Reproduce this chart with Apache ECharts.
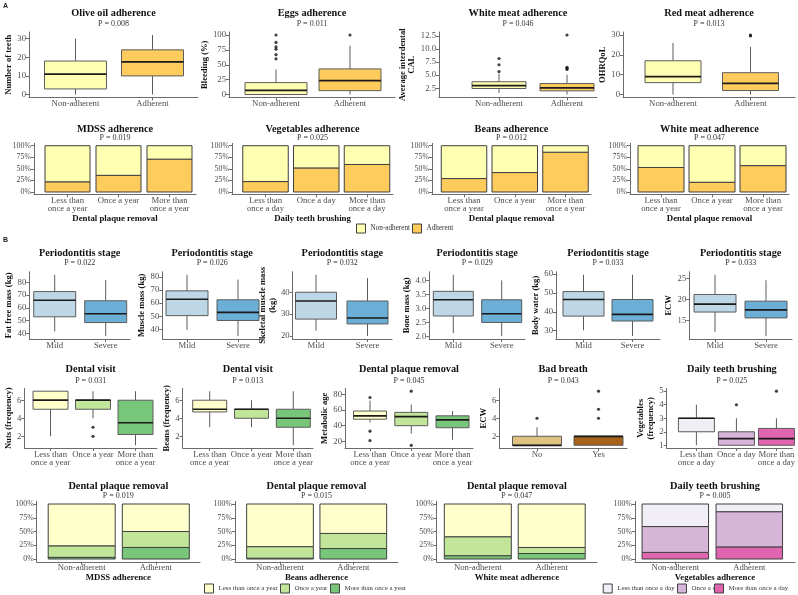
<!DOCTYPE html>
<html><head><meta charset="utf-8">
<script src="https://cdn.jsdelivr.net/npm/echarts@6/dist/echarts.min.js"></script>
<style>html,body{margin:0;padding:0;background:#fff}#c{width:798px;height:595px}</style>
</head><body><div id="c"></div>
<script>
// ======================= DATA =======================
// Boxplot values: [min whisker, Q1, median, Q3, max whisker]; outliers listed per category
const adherenceCats = ['Non-adherent', 'Adherent'];
const stageCats = ['Mild', 'Severe'];
const yearFreqCats = ['Less than\nonce a year', 'Once a year', 'More than\nonce a year'];
const dayFreqCats = ['Less than\nonce a day', 'Once a day', 'More than\nonce a day'];
const breathCats = ['No', 'Yes'];

// --- A, row 1 ---
const oliveOilTeeth = [[0, 3, 11, 18, 30], [0, 10, 17.5, 24, 32]];
const oliveOilTeethOut = [[], []];
const eggsBleeding = [[0, 0, 7, 20, 42], [0, 6.5, 23.5, 43, 82]];
const eggsBleedingOut = [[100, 87.5, 80, 76, 67, 60], [100]];
const whiteMeatCAL = [[1.6, 2.45, 3.0, 3.75, 5.3], [1.3, 2.0, 2.56, 3.4, 5.1]];
const whiteMeatCALOut = [[8.2, 7.0, 5.7], [12.7, 6.5, 6.3, 6.1]];
const redMeatOHRQoL = [[0, 6, 9, 17, 26], [0, 2, 5.6, 11, 24]];
const redMeatOHRQoLOut = [[], [29.5, 30]];

// --- A, row 2 (proportions, Adherent / Non-adherent) ---
const mdssPlaqueAdh = [0.22, 0.36, 0.71];
const mdssPlaqueNon = [0.78, 0.64, 0.29];
const vegBrushAdh = [0.225, 0.52, 0.595];
const vegBrushNon = [0.775, 0.48, 0.405];
const beansPlaqueAdh = [0.29, 0.42, 0.86];
const beansPlaqueNon = [0.71, 0.58, 0.14];
const whiteMeatPlaqueAdh = [0.53, 0.21, 0.57];
const whiteMeatPlaqueNon = [0.47, 0.79, 0.43];

// --- B, row 3 ---
const fatFreeMass = [[41.5, 53, 66, 72.8, 86], [38, 48.5, 55.4, 65.6, 81.8]];
const muscleMass = [[39.6, 50.5, 63, 69.4, 81.7], [35, 46.8, 53, 62.6, 78]];
const skeletalMass = [[22.4, 27.7, 36, 40, 48], [20, 25.5, 28.2, 36, 46.5]];
const boneMass = [[2.12, 2.73, 3.31, 3.61, 4.2], [2.02, 2.5, 2.81, 3.31, 4.0]];
const bodyWater = [[30.2, 37.7, 46.5, 50.7, 59.6], [27.2, 35.1, 38.6, 46.5, 59.6]];
const ecwStage = [[12.3, 17, 18.9, 21.2, 25.9], [11.3, 15.6, 17.5, 19.6, 24.6]];
const noOut2 = [[], []];

// --- B, row 4 ---
const nutsVisit = [[2, 5, 6, 7, 7], [4, 5, 6, 6, 7], [1, 2.2, 3.5, 6, 7]];
const nutsVisitOut = [[], [3, 2], []];
const beansVisit = [[3, 4.7, 5, 6, 7], [3, 4, 5, 5, 6], [1, 3, 4, 5, 7]];
const beansVisitOut = [[], [], []];
const metabolicPlaque = [[44, 48.3, 52.6, 58.7, 72], [30, 40, 51.7, 57, 67], [22, 37.4, 47.4, 52.6, 58.6]];
const metabolicPlaqueOut = [[76, 33, 21], [84, 15], []];
const ecwBreath = [[1, 1, 1, 2, 3], [1, 1, 2, 2, 2]];
const ecwBreathOut = [[4], [7, 5, 4]];
const vegBrushFreq = [[1, 2, 3, 3, 4], [1, 1, 1.5, 2, 3], [1, 1, 1.5, 2.25, 3]];
const vegBrushFreqOut = [[], [4], [5]];

// --- B, row 5 (proportions by adherence group: [Non-adherent, Adherent]) ---
const mdssMore = [0.03, 0.21], mdssOnce = [0.21, 0.29], mdssLess = [0.76, 0.50];
const beansMore = [0.015, 0.19], beansOnce = [0.21, 0.275], beansLess = [0.775, 0.535];
const wmMore = [0.06, 0.10], wmOnce = [0.345, 0.11], wmLess = [0.595, 0.79];
const vegMore = [0.12, 0.22], vegOnce = [0.47, 0.64], vegLess = [0.41, 0.14];

const pctTicks = [0, 0.25, 0.5, 0.75, 1];

// ======================= STYLE / LAYOUT =======================
const FONT = 'Liberation Serif';
const AXIS_COL = '#6b6b6b';
const TXT_COL = '#4d4d4d';
const BOX_BORDER = '#5c5c5c';
const BAR_BORDER = '#3f3f3f';
const adhColors = ['#FFFFB2', '#FECC5C'];
const stageColors = ['#BDD7E7', '#6BAED6'];
const yearColors = ['#FFFFCC', '#C2E699', '#78C679'];
const dayColors = ['#F1EEF6', '#D7B5D8', '#DF65B0'];
const breathColors = ['#DFC27D', '#A6611A'];
const seriesColors = {
  'Non-adherent': '#FFFFB2', 'Adherent': '#FECC5C',
  'Less than once a year': '#FFFFCC', 'Once a year': '#C2E699', 'More than once a year': '#78C679',
  'Less than once a day': '#F1EEF6', 'Once a day': '#D7B5D8', 'More than once a day': '#DF65B0'
};
const ROWS = {
  r1: {T: 32, B: 97.5, title: 13.5, p: 24.3},
  r2: {T: 143.4, B: 194.3, title: 129, p: 137.7},
  r3: {T: 271.7, B: 339, title: 253.3, p: 263.3},
  r4: {T: 388.5, B: 448, title: 369.3, p: 381},
  r5: {T: 501.25, B: 561.75, title: 486.7, p: 495.7}
};
// legend entries: [name, left, top, fontSize]
const legendPlacement = [
  ['Non-adherent', 356, 223.5, 7.2], ['Adherent', 412, 223.5, 7.2],
  ['Less than once a year', 204, 583.5, 6.9], ['Once a year', 280, 583.5, 6.9], ['More than once a year', 330, 583.5, 6.9],
  ['Less than once a day', 602.7, 583.5, 6.9], ['Once a day', 677, 583.5, 6.9], ['More than once a day', 714, 583.5, 6.9]
];

const panels = [
  // A row 1
  {kind: 'box', row: 'r1', title: 'Olive oil adherence', p: 'P = 0.008', cats: adherenceCats, box: oliveOilTeeth, out: oliveOilTeethOut, colors: adhColors, yName: 'Number of teeth', yTicks: [0, 10, 20, 30], dec: 0, geo: {L: 29, R: 198, c1: 75.5, cn: 152.5, w: 62, yGap: 12.8}},
  {kind: 'box', row: 'r1', title: 'Eggs adherence', p: 'P = 0.011', cats: adherenceCats, box: eggsBleeding, out: eggsBleedingOut, colors: adhColors, yName: 'Bleeding (%)', yTicks: [0, 25, 50, 75, 100], dec: 0, geo: {L: 229, R: 395, c1: 276, cn: 350, w: 62, yGap: 12.8}},
  {kind: 'box', row: 'r1', title: 'White meat adherence', p: 'P = 0.046', cats: adherenceCats, box: whiteMeatCAL, out: whiteMeatCALOut, colors: adhColors, yName: 'Average interdental\nCAL', yTicks: [2.5, 5, 7.5, 10, 12.5], dec: 1, geo: {L: 439, R: 597, c1: 499, cn: 567, w: 54, yGap: 17.5}},
  {kind: 'box', row: 'r1', title: 'Red meat adherence', p: 'P = 0.013', cats: adherenceCats, box: redMeatOHRQoL, out: redMeatOHRQoLOut, colors: adhColors, yName: 'OHRQoL', yTicks: [0, 10, 20, 30], dec: 0, geo: {L: 623, R: 795, c1: 673, cn: 750.5, w: 56, yGap: 8.5}},
  // A row 2
  {kind: 'bar', row: 'r2', title: 'MDSS adherence', p: 'P = 0.019', cats: yearFreqCats, stack: [['Adherent', mdssPlaqueAdh], ['Non-adherent', mdssPlaqueNon]], xName: 'Dental plaque removal', xGap: 17.2, geo: {L: 34, R: 196, c1: 67.5, cn: 169.5, w: 45}},
  {kind: 'bar', row: 'r2', title: 'Vegetables adherence', p: 'P = 0.025', cats: dayFreqCats, stack: [['Adherent', vegBrushAdh], ['Non-adherent', vegBrushNon]], xName: 'Daily teeth brushing', xGap: 17.2, geo: {L: 232, R: 393, c1: 265.5, cn: 367, w: 45.5}},
  {kind: 'bar', row: 'r2', title: 'Beans adherence', p: 'P = 0.012', cats: yearFreqCats, stack: [['Adherent', beansPlaqueAdh], ['Non-adherent', beansPlaqueNon]], xName: 'Dental plaque removal', xGap: 17.2, geo: {L: 432, R: 591, c1: 464, cn: 565.5, w: 45.5}},
  {kind: 'bar', row: 'r2', title: 'White meat adherence', p: 'P = 0.047', cats: yearFreqCats, stack: [['Adherent', whiteMeatPlaqueAdh], ['Non-adherent', whiteMeatPlaqueNon]], xName: 'Dental plaque removal', xGap: 17.2, geo: {L: 630, R: 789, c1: 661, cn: 763, w: 46}},
  // B row 3
  {kind: 'box', row: 'r3', title: 'Periodontitis stage', p: 'P = 0.022', cats: stageCats, box: fatFreeMass, out: noOut2, colors: stageColors, yName: 'Fat free mass (kg)', yTicks: [40, 50, 60, 70, 80], dec: 0, geo: {L: 29.3, R: 130, c1: 54.7, cn: 105.7, w: 42, yGap: 11.8}},
  {kind: 'box', row: 'r3', title: 'Periodontitis stage', p: 'P = 0.026', cats: stageCats, box: muscleMass, out: noOut2, colors: stageColors, yName: 'Muscle mass (kg)', yTicks: [40, 50, 60, 70, 80], dec: 0, geo: {L: 162.3, R: 262, c1: 187, cn: 238, w: 42, yGap: 12.5}},
  {kind: 'box', row: 'r3', title: 'Periodontitis stage', p: 'P = 0.032', cats: stageCats, box: skeletalMass, out: noOut2, colors: stageColors, yName: 'Skeletal muscle mass\n(kg)', yTicks: [20, 30, 40], dec: 0, geo: {L: 292.7, R: 392, c1: 316, cn: 367.5, w: 41, yGap: 8}},
  {kind: 'box', row: 'r3', title: 'Periodontitis stage', p: 'P = 0.029', cats: stageCats, box: boneMass, out: noOut2, colors: stageColors, yName: 'Bone mass (kg)', yTicks: [2, 2.5, 3, 3.5, 4], dec: 1, geo: {L: 429.3, R: 525, c1: 453.3, cn: 501.7, w: 40, yGap: 16}},
  {kind: 'box', row: 'r3', title: 'Periodontitis stage', p: 'P = 0.033', cats: stageCats, box: bodyWater, out: noOut2, colors: stageColors, yName: 'Body water (kg)', yTicks: [30, 40, 50, 60], dec: 0, geo: {L: 556, R: 660, c1: 583.5, cn: 632.5, w: 41, yGap: 11.2}},
  {kind: 'box', row: 'r3', title: 'Periodontitis stage', p: 'P = 0.033', cats: stageCats, box: ecwStage, out: noOut2, colors: stageColors, yName: 'ECW', yTicks: [15, 20, 25], dec: 0, geo: {L: 689.3, R: 792, c1: 715, cn: 766, w: 42, yGap: 12}},
  // B row 4
  {kind: 'box', row: 'r4', title: 'Dental visit', p: 'P = 0.031', cats: yearFreqCats, box: nutsVisit, out: nutsVisitOut, colors: yearColors, yName: 'Nuts (frequency)', yTicks: [2, 4, 6], dec: 0, geo: {L: 24.3, R: 157, c1: 50.5, cn: 135.5, w: 35, yGap: 6.5}},
  {kind: 'box', row: 'r4', title: 'Dental visit', p: 'P = 0.013', cats: yearFreqCats, box: beansVisit, out: beansVisitOut, colors: yearColors, yName: 'Beans (frequency)', yTicks: [2, 4, 6], dec: 0, geo: {L: 182.7, R: 313, c1: 209.7, cn: 293.3, w: 34, yGap: 7.2}},
  {kind: 'box', row: 'r4', title: 'Dental plaque removal', p: 'P = 0.045', cats: yearFreqCats, box: metabolicPlaque, out: metabolicPlaqueOut, colors: yearColors, yName: 'Metabolic age', yTicks: [20, 40, 60, 80], dec: 0, geo: {L: 345, R: 473, c1: 370, cn: 452.5, w: 33, yGap: 11.2}},
  {kind: 'box', row: 'r4', title: 'Bad breath', p: 'P = 0.043', cats: breathCats, box: ecwBreath, out: ecwBreathOut, colors: breathColors, yName: 'ECW', yTicks: [2, 4, 6], dec: 0, geo: {L: 499.3, R: 627, c1: 537, cn: 598.5, w: 49, yGap: 9.8}},
  {kind: 'box', row: 'r4', title: 'Daily teeth brushing', p: 'P = 0.025', cats: dayFreqCats, box: vegBrushFreq, out: vegBrushFreqOut, colors: dayColors, yName: 'Vegetables\n(frequency)', yTicks: [1, 2, 3, 4, 5], dec: 0, geo: {L: 666.7, R: 797, c1: 697.5, cn: 780.5, w: 36, yGap: 7}},
  // B row 5
  {kind: 'bar', row: 'r5', title: 'Dental plaque removal', p: 'P = 0.019', cats: adherenceCats, stack: [['More than once a year', mdssMore], ['Once a year', mdssOnce], ['Less than once a year', mdssLess]], xName: 'MDSS adherence', xGap: 9.6, geo: {L: 36.7, R: 200, c1: 81.7, cn: 155.8, w: 67}},
  {kind: 'bar', row: 'r5', title: 'Dental plaque removal', p: 'P = 0.015', cats: adherenceCats, stack: [['More than once a year', beansMore], ['Once a year', beansOnce], ['Less than once a year', beansLess]], xName: 'Beans adherence', xGap: 9.6, geo: {L: 235, R: 398, c1: 280, cn: 353.3, w: 66.7}},
  {kind: 'bar', row: 'r5', title: 'Dental plaque removal', p: 'P = 0.047', cats: adherenceCats, stack: [['More than once a year', wmMore], ['Once a year', wmOnce], ['Less than once a year', wmLess]], xName: 'White meat adherence', xGap: 9.6, geo: {L: 436.7, R: 597, c1: 477.8, cn: 551.7, w: 67}},
  {kind: 'bar', row: 'r5', title: 'Daily teeth brushing', p: 'P = 0.005', cats: adherenceCats, stack: [['More than once a day', vegMore], ['Once a day', vegOnce], ['Less than once a day', vegLess]], xName: 'Vegetables adherence', xGap: 9.6, geo: {L: 635, R: 795, c1: 675.3, cn: 749.3, w: 66.5}}
];

// ======================= BUILD =======================
function xRange(g, n) {
  const u = (g.cn - g.c1) / (n - 1);
  return {min: 1 - (g.c1 - g.L) / u, max: n + (g.R - g.cn) / u};
}
function yRange(box, out) {
  let lo = Infinity, hi = -Infinity;
  box.forEach(b => { lo = Math.min(lo, b[0]); hi = Math.max(hi, b[4]); });
  out.forEach(a => a.forEach(v => { lo = Math.min(lo, v); hi = Math.max(hi, v); }));
  const pad = (hi - lo) * 0.05;
  return {min: lo - pad, max: hi + pad};
}
function boxRenderer(colors, w) {
  return function (params, api) {
    const ci = api.value(0);
    const v = [1, 2, 3, 4, 5].map(i => api.value(i));
    const x = api.coord([ci, v[2]])[0];
    const y = v.map(val => api.coord([ci, val])[1]);
    const hw = w / 2;
    return {type: 'group', children: [
      {type: 'line', shape: {x1: x, y1: y[0], x2: x, y2: y[1]}, style: {stroke: BOX_BORDER, lineWidth: 1}},
      {type: 'line', shape: {x1: x, y1: y[3], x2: x, y2: y[4]}, style: {stroke: BOX_BORDER, lineWidth: 1}},
      {type: 'rect', shape: {x: x - hw, y: y[3], width: w, height: y[1] - y[3]}, style: {fill: colors[ci - 1], stroke: BOX_BORDER, lineWidth: 1}},
      {type: 'line', shape: {x1: x - hw, y1: y[2], x2: x + hw, y2: y[2]}, style: {stroke: '#1a1a1a', lineWidth: 1.7}}
    ]};
  };
}
function barRenderer(color, w) {
  return function (params, api) {
    const xv = api.value(0);
    const p0 = api.coord([xv, api.value(1)]);
    const p1 = api.coord([xv, api.value(2)]);
    return {type: 'rect', shape: {x: p0[0] - w / 2, y: p1[1], width: w, height: p0[1] - p1[1]},
      style: {fill: color, stroke: BAR_BORDER, lineWidth: 1}};
  };
}

const option = {
  animation: false, backgroundColor: '#ffffff', textStyle: {fontFamily: FONT},
  grid: [], xAxis: [], yAxis: [], series: [], graphic: [],
  legend: legendPlacement.map(([name, left, top, fs]) => ({
    data: [name], left: left, top: top, icon: 'rect', itemWidth: 9, itemHeight: 9, padding: 0,
    selectedMode: false, itemStyle: {borderColor: BAR_BORDER, borderWidth: 1},
    textStyle: {fontSize: fs, color: '#333', fontFamily: FONT}
  }))
};

option.graphic.push({type: 'text', x: 3, y: 6, style: {text: 'A', font: 'bold 7px "Liberation Sans"', fill: '#222', align: 'left', verticalAlign: 'middle'}});
option.graphic.push({type: 'text', x: 3, y: 240, style: {text: 'B', font: 'bold 7px "Liberation Sans"', fill: '#222', align: 'left', verticalAlign: 'middle'}});

panels.forEach((p, gi) => {
  const r = ROWS[p.row];
  const g = p.geo;
  const n = p.cats.length;
  const xr = xRange(g, n);
  const ticks = p.cats.map((_, i) => i + 1);
  option.grid.push({left: g.L, top: r.T, width: g.R - g.L, height: r.B - r.T});
  option.xAxis.push({
    gridIndex: gi, type: 'value', min: xr.min, max: xr.max,
    axisLine: {show: true, onZero: false, lineStyle: {color: AXIS_COL, width: 1}},
    axisTick: {show: true, length: 3, customValues: ticks, lineStyle: {color: AXIS_COL}},
    axisLabel: {customValues: ticks, formatter: v => p.cats[Math.round(v) - 1] || '', margin: 2, fontSize: 8.7, lineHeight: 8.5, color: TXT_COL, fontFamily: FONT},
    splitLine: {show: false},
    name: p.xName || '', nameLocation: 'middle', nameGap: p.xGap || 0,
    nameTextStyle: {fontWeight: 'bold', fontSize: 8.8, color: '#111', fontFamily: FONT}
  });
  const isBar = p.kind === 'bar';
  const yr = isBar ? {min: -0.05, max: 1.05} : yRange(p.box, p.out);
  const yt = isBar ? pctTicks : p.yTicks;
  option.yAxis.push({
    gridIndex: gi, type: 'value', min: yr.min, max: yr.max,
    axisLine: {show: true, onZero: false, lineStyle: {color: AXIS_COL, width: 1}},
    axisTick: {show: true, length: 3, customValues: yt, lineStyle: {color: AXIS_COL}},
    axisLabel: {customValues: yt, margin: 3, fontSize: isBar ? 7.9 : 8.7, color: TXT_COL, fontFamily: FONT,
      formatter: v => isBar ? Math.round(v * 100) + '%' : v.toFixed(p.dec)},
    splitLine: {show: false},
    name: p.yName || '', nameLocation: 'middle', nameRotate: 90, nameGap: g.yGap || 0,
    nameTextStyle: {fontWeight: 'bold', fontSize: 8.6, lineHeight: 9.5, color: '#111', fontFamily: FONT}
  });
  if (isBar) {
    const cum = p.cats.map(() => 0);
    p.stack.forEach(([name, vals]) => {
      const data = vals.map((v, i) => { const s = cum[i]; cum[i] += v; return [i + 1, s, cum[i]]; });
      option.series.push({
        type: 'custom', name: name, xAxisIndex: gi, yAxisIndex: gi, silent: true,
        data: data, encode: {x: 0, y: [1, 2]},
        itemStyle: {color: seriesColors[name], borderColor: BAR_BORDER, borderWidth: 1},
        renderItem: barRenderer(seriesColors[name], g.w)
      });
    });
  } else {
    option.series.push({
      type: 'custom', xAxisIndex: gi, yAxisIndex: gi, silent: true,
      data: p.box.map((b, i) => [i + 1].concat(b)),
      encode: {x: 0, y: [1, 2, 3, 4, 5]},
      renderItem: boxRenderer(p.colors, g.w)
    });
    const pts = [];
    p.out.forEach((a, i) => a.forEach(v => pts.push([i + 1, v])));
    option.series.push({type: 'scatter', xAxisIndex: gi, yAxisIndex: gi, data: pts, symbolSize: 3.2, silent: true, z: 5, itemStyle: {color: '#111'}});
  }
  const cx = (g.L + g.R) / 2;
  option.graphic.push({type: 'text', x: cx, y: r.title, style: {text: p.title, font: 'bold 10.3px "Liberation Serif"', fill: '#111', align: 'center', verticalAlign: 'middle'}});
  option.graphic.push({type: 'text', x: cx, y: r.p, style: {text: p.p, font: '8px "Liberation Serif"', fill: '#333', align: 'center', verticalAlign: 'middle'}});
});

const chart = echarts.init(document.getElementById('c'), null, {renderer: 'canvas'});
chart.setOption(option);
</script></body></html>
